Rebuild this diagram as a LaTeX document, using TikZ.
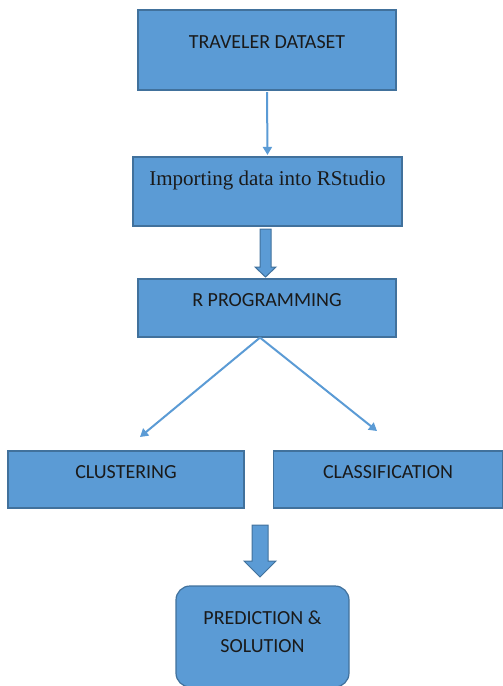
\documentclass[tikz,border=0pt]{standalone}
\usepackage{fontspec}
\setmainfont{Carlito}
\newfontfamily\seriftxt{Liberation Serif}
\usetikzlibrary{arrows.meta}
\definecolor{boxfill}{HTML}{5B9BD5}
\definecolor{boxline}{HTML}{41719C}
\definecolor{txt}{HTML}{1A1A1A}

\begin{document}
\begin{tikzpicture}[x=1pt,y=-1pt,
  box/.style={draw=boxline,fill=boxfill,line width=1.2pt,inner sep=0pt},
  lbl/.style={text=txt,font=\fontsize{20}{28}\selectfont,align=center,inner sep=0pt},
  link/.style={draw=boxfill,line width=2pt,-{Triangle[width=9pt,length=8pt]}},
  blockarr/.style={draw=boxline,fill=boxfill,line width=1pt}]
\useasboundingbox (0,0) rectangle (503,686);

% boxes
\node[box,minimum width=258pt,minimum height=80pt] (trav) at (267,50) {};
\node[box,minimum width=269pt,minimum height=69pt] (imp) at (267.5,191.5) {};
\node[box,minimum width=258pt,minimum height=58pt] (rprog) at (267,308) {};
\node[box,minimum width=236pt,minimum height=57pt] (clus) at (126,479.5) {};
\node[box,minimum width=229pt,minimum height=57pt] (class) at (388,479.5) {};
\node[box,rounded corners=14pt,minimum width=173pt,minimum height=101pt] (pred) at (262.5,636.5) {};

% texts
\node[lbl] (travtxt) at ([yshift=8pt]trav.center) {TRAVELER DATASET};
\node[lbl,font=\seriftxt\fontsize{21}{24}\selectfont] (imptxt) at ([yshift=11pt]imp.center) {Importing data into RStudio};
\node[lbl] (rprogtxt) at ([yshift=8pt]rprog.center) {R PROGRAMMING};
\node[lbl] (clustxt) at ([yshift=7.5pt]clus.center) {CLUSTERING};
\node[lbl] (classtxt) at ([yshift=7.5pt]class.center) {CLASSIFICATION};
\node[lbl] (predtxt) at ([yshift=4.5pt]pred.center) {PREDICTION \&\\SOLUTION};

% arrows
\draw[link,shorten <=1.5pt,shorten >=1.5pt] (trav.south) -- (imp.north);

\draw[blockarr] (260,229) -- (271,229) -- (271,267) -- (276,267) -- (265.5,277) -- (255,267) -- (260,267) -- cycle;

\coordinate (split) at ([xshift=-7pt]rprog.south);
\coordinate (clusend) at (140,437);
\coordinate (classend) at (377,431);
\draw[link] (split) -- (clusend);
\draw[link] (split) -- (classend);

\draw[blockarr] (252,525) -- (268,525) -- (268,561) -- (276,561) -- (260,577) -- (244,561) -- (252,561) -- cycle;

\end{tikzpicture}
\end{document}
